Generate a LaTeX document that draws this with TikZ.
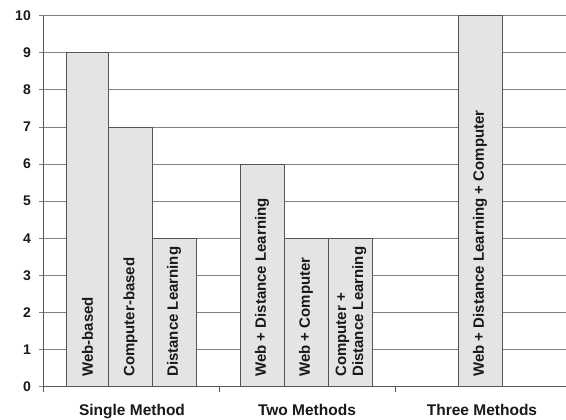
\documentclass[tikz,border=0pt]{standalone}
\usepackage{fontspec}
\setmainfont{Liberation Sans}
\definecolor{barfill}{RGB}{228,228,228}
\definecolor{gridc}{RGB}{128,128,128}
\definecolor{edgec}{RGB}{85,85,85}
\definecolor{inkc}{RGB}{25,25,25}
\tikzset{
  gridline/.style={draw=gridc, line width=0.9pt},
  axisline/.style={draw=edgec, line width=1pt},
  barbox/.style={fill=barfill, draw=edgec, line width=0.9pt},
  barlabel/.style={rotate=90, anchor=west, inner sep=0pt, text=inkc,
    font=\bfseries\fontsize{15}{17}\selectfont, align=left},
  ylab/.style={anchor=east, inner sep=0pt, text=inkc, font=\bfseries\fontsize{14}{16}\selectfont},
  catlab/.style={anchor=base, inner sep=0pt, text=inkc, font=\bfseries\fontsize{15.5}{18}\selectfont}
}
\begin{document}
\begin{tikzpicture}[x=1pt,y=-1pt]
\useasboundingbox (0,0) rectangle (566,420);
\fill[white] (0,0) rectangle (566,420);
% grid lines and y labels
\foreach \v in {0,...,10}{
  \pgfmathsetmacro{\yy}{386.7-37.1*\v}
  \draw[gridline] (39,\yy) -- (566,\yy);
  \node[ylab] (y\v) at (31,\yy) {\v};
}
% bars
\foreach \xa/\xb/\h in {66/108/9, 108/152/7, 152/196/4, 240/284/6, 284/328/4, 328/372/4, 458/502/10}{
  \pgfmathsetmacro{\yt}{386.7-37.1*\h}
  \draw[barbox] (\xa,386.7) rectangle (\xb,\yt);
}
% axes
\draw[axisline] (43,15.7) -- (43,392);
\draw[axisline] (43,386.7) -- (566,386.7);
\draw[axisline] (219,386.7) -- (219,392);
\draw[axisline] (395,386.7) -- (395,392);
% bar labels
\node[barlabel] (b1) at (87.5,377) {Web-based};
\node[barlabel] (b2) at (130.5,377) {Computer-based};
\node[barlabel] (b3) at (174,377) {Distance Learning};
\node[barlabel] (b4) at (262,377) {Web + Distance Learning};
\node[barlabel] (b5) at (306,377) {Web + Computer};
\node[barlabel] (b6) at (351,377) {Computer +\\Distance Learning};
\node[barlabel] (b7) at (480,377) {Web + Distance Learning + Computer};
% category labels
\node[catlab] (c1) at (132,415) {Single Method};
\node[catlab] (c2) at (307,415) {Two Methods};
\node[catlab] (c3) at (482,415) {Three Methods};
\end{tikzpicture}
\end{document}
